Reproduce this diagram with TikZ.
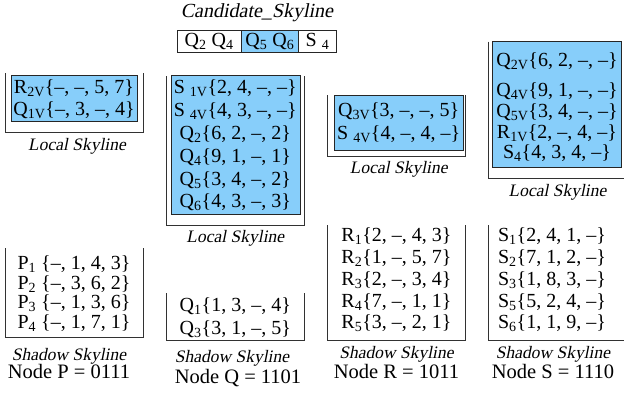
\documentclass[tikz,border=0pt]{standalone}
\usepackage{fontspec}
\setmainfont{Liberation Serif}
\newfontfamily\itserif{Liberation Serif}[FakeSlant=0.2]
\definecolor{skyfill}{RGB}{135,206,250}
\definecolor{framegray}{RGB}{50,50,50}
\newcommand\sbs[1]{\textsubscript{#1}}
\tikzset{
  frame/.style={draw=framegray, line width=1pt},
  skybox/.style={fill=skyfill, draw=black!85, line width=0.8pt},
  row/.style={anchor=base, inner sep=0pt, font=\fontsize{20}{22}\selectfont},
  lbl/.style={anchor=base, inner sep=0pt, font=\itserif\fontsize{17.5}{20}\selectfont},
  nodelbl/.style={anchor=base, inner sep=0pt, font=\fontsize{20.5}{22}\selectfont},
  cell/.style={draw=black!85, line width=0.8pt, minimum height=22.3pt, inner sep=0pt, anchor=north west, font=\fontsize{20}{22}\selectfont}
}
\begin{document}
\begin{tikzpicture}[x=1pt,y=-1pt]
\useasboundingbox (0,0) rectangle (624,397);

% ---------- Candidate skyline ----------
\node[lbl, font=\itserif\fontsize{20}{22}\selectfont] (cand) at (257,17) {Candidate\_Skyline};
\node[cell, minimum width=64pt] (c1) at (176.7,30) {Q\sbs{2} Q\sbs{4}};
\node[cell, minimum width=57.6pt, fill=skyfill] (c2) at (240.7,30) {Q\sbs{5} Q\sbs{6}};
\node[cell, minimum width=37.7pt] (c3) at (298.3,30) {S \sbs{4}};

% ---------- Local skylines ----------
% P
\draw[frame] (5,73) |- (143,132.7) -- (143,73);
\draw[skybox] (11,75) rectangle (137.7,121.7);
\node[row] (pl1) at (74,93) {R\sbs{2V}\{--, --, 5, 7\}};
\node[row] (pl2) at (74,115.5) {Q\sbs{1V}\{--, 3, --, 4\}};
\node[lbl] (pll) at (77,150) {Local Skyline};

% Q
\draw[frame] (166.7,76) |- (304,225) -- (304,76);
\draw[skybox] (171.7,75.7) rectangle (300.7,214.3);
\node[row] (ql1) at (235.3,93.8) {S \sbs{1V}\{2, 4, --, --\}};
\node[row] (ql2) at (235.3,116.5) {S \sbs{4V}\{4, 3, --, --\}};
\node[row] (ql3) at (235.3,139.5) {Q\sbs{2}\{6, 2, --, 2\}};
\node[row] (ql4) at (235.3,162.5) {Q\sbs{4}\{9, 1, --, 1\}};
\node[row] (ql5) at (235.3,185) {Q\sbs{5}\{3, 4, --, 2\}};
\node[row] (ql6) at (235.3,207.8) {Q\sbs{6}\{4, 3, --, 3\}};
\node[lbl] (qll) at (235.3,242.5) {Local Skyline};

% R
\draw[frame] (327.3,95) |- (465.7,156) -- (465.7,95);
\draw[skybox] (334,95.7) rectangle (463.3,150);
\node[row] (rl1) at (398.7,116.5) {Q\sbs{3V}\{3, --, --, 5\}};
\node[row] (rl2) at (398.7,139.8) {S \sbs{4V}\{4, --, 4, --\}};
\node[lbl] (rll) at (398.7,173) {Local Skyline};

% S
\draw[frame] (488.3,41.7) |- (640,178.3);
\draw[skybox] (492.7,41.7) rectangle (621.7,167.3);
\node[row] (sl1) at (557,66.5) {Q\sbs{2V}\{6, 2, --, --\}};
\node[row] (sl2) at (557,96.5) {Q\sbs{4V}\{9, 1, --, --\}};
\node[row] (sl3) at (557,117.5) {Q\sbs{5V}\{3, 4, --, --\}};
\node[row] (sl4) at (557,138.2) {R\sbs{1V}\{2, --, 4, --\}};
\node[row] (sl5) at (557,158.2) {S\sbs{4}\{4, 3, 4, --\}};
\node[lbl] (sll) at (557.5,196.5) {Local Skyline};

% ---------- Shadow skylines ----------
% P
\draw[frame] (5,248) |- (143.3,337.3) -- (143.3,248);
\node[row] (ps1) at (74,269.8) {P\sbs{1} \{--, 1, 4, 3\}};
\node[row] (ps2) at (74,289.2) {P\sbs{2} \{--, 3, 6, 2\}};
\node[row] (ps3) at (74,308.2) {P\sbs{3} \{--, 1, 3, 6\}};
\node[row] (ps4) at (74,328.2) {P\sbs{4} \{--, 1, 7, 1\}};
\node[lbl] (psl) at (69,360) {Shadow Skyline};
\node[nodelbl] (np) at (69,378.5) {Node P = 0111};

% Q
\draw[frame] (166.7,293.3) |- (304,340) -- (304,293.3);
\node[row] (qs1) at (235.3,311.5) {Q\sbs{1}\{1, 3, --, 4\}};
\node[row] (qs2) at (235.3,334.8) {Q\sbs{3}\{3, 1, --, 5\}};
\node[lbl] (qsl) at (232,362.3) {Shadow Skyline};
\node[nodelbl] (nq) at (238,383.5) {Node Q = 1101};

% R
\draw[frame] (327.3,225) |- (465.7,340) -- (465.7,225);
\node[row] (rs1) at (396.5,241.5) {R\sbs{1}\{2, --, 4, 3\}};
\node[row] (rs2) at (396.5,263.2) {R\sbs{2}\{1, --, 5, 7\}};
\node[row] (rs3) at (396.5,285.5) {R\sbs{3}\{2, --, 3, 4\}};
\node[row] (rs4) at (396.5,307.5) {R\sbs{4}\{7, --, 1, 1\}};
\node[row] (rs5) at (396.5,328.8) {R\sbs{5}\{3, --, 2, 1\}};
\node[lbl] (rsl) at (396.5,358.3) {Shadow Skyline};
\node[nodelbl] (nr) at (396.5,378.5) {Node R = 1011};

% S
\draw[frame] (488.3,225) |- (640,340);
\node[row] (ss1) at (552,241.5) {S\sbs{1}\{2, 4, 1, --\}};
\node[row] (ss2) at (552,263.2) {S\sbs{2}\{7, 1, 2, --\}};
\node[row] (ss3) at (552,285.5) {S\sbs{3}\{1, 8, 3, --\}};
\node[row] (ss4) at (552,307.5) {S\sbs{5}\{5, 2, 4, --\}};
\node[row] (ss5) at (552,328.8) {S\sbs{6}\{1, 1, 9, --\}};
\node[lbl] (ssl) at (553,358.3) {Shadow Skyline};
\node[nodelbl] (ns) at (553,378.5) {Node S = 1110};
\end{tikzpicture}
\end{document}
